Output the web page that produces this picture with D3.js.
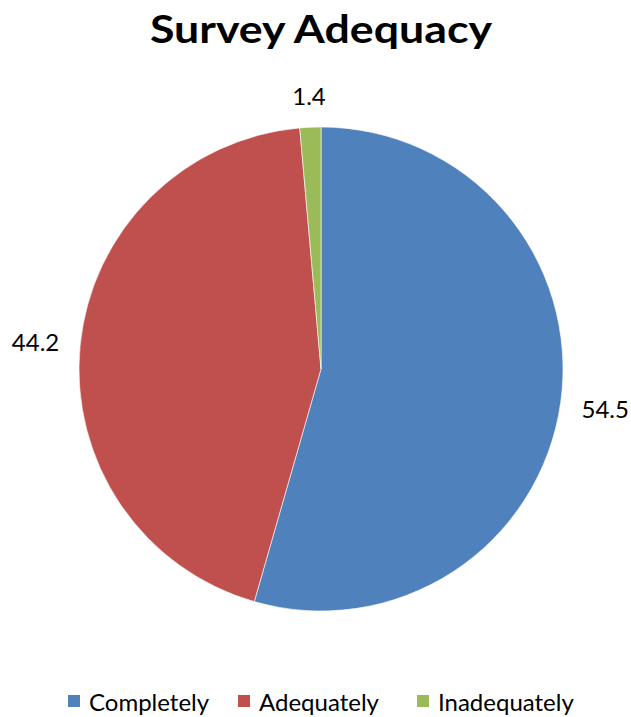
<!DOCTYPE html>
<html>
<head>
<meta charset="utf-8">
<script src="https://cdn.jsdelivr.net/npm/d3@7"></script>
<style>
  html, body { margin: 0; padding: 0; background: #fff; }
  svg { display: block; }
  text { font-family: Lato, "Open Sans", "Liberation Sans", sans-serif; fill: #000; }
</style>
</head>
<body>
<svg id="chart" width="631" height="717"></svg>
<script>
// Survey responses (percent)
const categories = ["Completely", "Adequately", "Inadequately"];
const values = [54.5, 44.2, 1.4];
const colors = ["#4F81BD", "#C0504D", "#9BBB59"];
const title = "Survey Adequacy";

const svg = d3.select("#chart");
const cx = 321, cy = 369, R = 242;

svg.append("text")
  .attr("x", 321).attr("y", 43)
  .attr("text-anchor", "middle")
  .style("font-size", "39px").style("font-weight", "bold")
  .attr("textLength", 342).attr("lengthAdjust", "spacingAndGlyphs")
  .text(title);

const data = categories.map((c, i) => ({ name: c, value: values[i], color: colors[i] }));
const pie = d3.pie().value(d => d.value).sort(null);
const arcs = pie(data);
const arc = d3.arc().innerRadius(0).outerRadius(R);

const g = svg.append("g").attr("transform", `translate(${cx},${cy})`);
g.selectAll("path").data(arcs).join("path")
  .attr("d", arc)
  .attr("fill", d => d.data.color)
  .attr("stroke", "#fff").attr("stroke-width", 0.6);

// Value labels just outside each slice
const gap = 22, halfW = 22, halfH = 9;
g.selectAll("text.lbl").data(arcs).join("text")
  .attr("class", "lbl")
  .attr("text-anchor", "middle")
  .attr("dominant-baseline", "central")
  .style("font-size", "24px")
  .attr("transform", d => {
    const a = (d.startAngle + d.endAngle) / 2;
    const dx = Math.sin(a), dy = -Math.cos(a);
    const dist = R + gap + Math.abs(dx) * halfW + Math.abs(dy) * halfH;
    return `translate(${dx * dist},${dy * dist})`;
  })
  .text(d => d.data.value.toFixed(1));

// Legend
const legendX = [68, 238, 417];
const lg = svg.append("g");
const items = lg.selectAll("g").data(data).join("g")
  .attr("transform", (d, i) => `translate(${legendX[i]},695)`);
items.append("rect").attr("width", 12).attr("height", 12).attr("fill", d => d.color);
items.append("text").attr("x", 21).attr("y", 6)
  .attr("dominant-baseline", "central")
  .style("font-size", "24px")
  .text(d => d.name);
</script>
</body>
</html>
